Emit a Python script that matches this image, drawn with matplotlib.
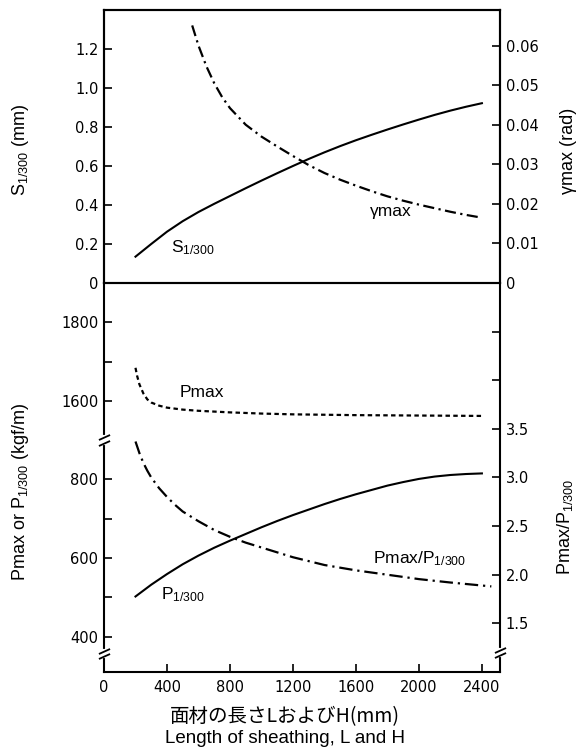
import matplotlib
matplotlib.use("Agg")
import matplotlib.pyplot as plt

plt.rcParams["font.family"] = ["Liberation Sans", "Noto Sans CJK JP", "DejaVu Sans"]
plt.rcParams["mathtext.default"] = "regular"

# --- data ---
L_S = [200, 300, 400, 500, 600, 700, 800, 900, 1000, 1100, 1200, 1300,
       1400, 1500, 1600, 1700, 1800, 1900, 2000, 2100, 2200, 2300, 2400]
S_1300 = [0.135, 0.200, 0.263, 0.317, 0.364, 0.406, 0.446, 0.486, 0.525, 0.563, 0.600, 0.636,
          0.670, 0.702, 0.732, 0.760, 0.787, 0.813, 0.838, 0.862, 0.884, 0.904, 0.922]

L_G = [560, 600, 650, 700, 750, 800, 900, 1000, 1100, 1200, 1300, 1400,
       1500, 1600, 1700, 1800, 1900, 2000, 2100, 2200, 2300, 2400]
GAMMA_MAX = [0.0651, 0.0600, 0.0548, 0.0505, 0.0470, 0.0442, 0.0400, 0.0370, 0.0345, 0.0321, 0.0298, 0.0278,
             0.0261, 0.0246, 0.0232, 0.0219, 0.0208, 0.0198, 0.0189, 0.0180, 0.0172, 0.0165]

L_PMAX = [200, 210, 225, 250, 275, 300, 350, 400, 500, 600, 800, 1000, 1200, 1600, 2000, 2400]
PMAX = [1685, 1665, 1643, 1620, 1605, 1597, 1589, 1584, 1579, 1576, 1572, 1569, 1567, 1565, 1564, 1563]

L_P = [200, 300, 400, 500, 600, 700, 800, 900, 1000, 1100, 1200, 1300,
       1400, 1500, 1600, 1700, 1800, 1900, 2000, 2100, 2200, 2300, 2400]
P_1300 = [502, 532, 559, 584, 606, 626, 644, 661, 678, 694, 709, 723,
          737, 750, 762, 773, 784, 793, 801, 807, 811, 813.5, 815]

L_R = [200, 225, 250, 275, 300, 350, 400, 450, 500, 600, 700, 800, 900, 1000,
       1100, 1200, 1300, 1400, 1600, 1800, 2000, 2200, 2460]
RATIO = [3.37, 3.25, 3.15, 3.07, 3.00, 2.89, 2.80, 2.72, 2.65, 2.55, 2.46, 2.39, 2.33, 2.28,
         2.23, 2.18, 2.14, 2.10, 2.045, 2.00, 1.955, 1.92, 1.88]

X_TICKS = [0, 400, 800, 1200, 1600, 2000, 2400]
S_TICKS = [0, 0.2, 0.4, 0.6, 0.8, 1.0, 1.2]
G_TICKS = [0, 0.01, 0.02, 0.03, 0.04, 0.05, 0.06]
PUP_TICKS = [1600, 1700, 1800]
PUP_LABELS = ["1600", "", "1800"]
PLO_TICKS = [400, 500, 600, 700, 800]
PLO_LABELS = ["400", "", "600", "", "800"]
R_TICKS = [1.5, 2.0, 2.5, 3.0, 3.5, 4.0, 4.5]
R_LABELS = ["1.5", "2.0", "2.5", "3.0", "3.5", "", ""]

XLIM = (0, 2515)
LW_SPINE = 1.5

fig = plt.figure(figsize=(5.81, 7.52), dpi=100)

left, width = 0.179, 0.6816
ax_top = fig.add_axes([left, 0.6237, width, 0.363])
ax_up = fig.add_axes([left, 0.4149, width, 0.2088])
ax_lo = fig.add_axes([left, 0.1064, width, 0.3085])
ax_r = fig.add_axes([left, 0.1064, width, 0.5173])
ax_g = ax_top.twinx()


def style_ticks(ax, axis, side):
    ax.tick_params(axis=axis, which="both", direction="in", length=6, width=1.2, pad=4,
                   labelsize=10.5, labelfontfamily="DejaVu Sans", **{side: True})


for ax in (ax_top, ax_up, ax_lo, ax_r, ax_g):
    ax.set_xlim(*XLIM)
    ax.patch.set_visible(False)
    for sp in ax.spines.values():
        sp.set_linewidth(LW_SPINE)

# top panel
ax_top.plot(L_S, S_1300, color="black", lw=1.5)
ax_top.set_ylim(0, 1.4)
ax_top.set_yticks(S_TICKS)
ax_top.set_yticklabels(["0" if v == 0 else f"{v:.1f}" for v in S_TICKS])
ax_top.set_xticks([])
style_ticks(ax_top, "y", "left")
ax_top.text(427, 0.18, r"S$_{1/300}$", fontsize=12.5, va="center")

ax_g.plot(L_G, GAMMA_MAX, color="black", lw=1.6, dashes=(5, 2, 1, 2))
ax_g.set_ylim(0, 0.069)
ax_g.set_yticks(G_TICKS)
ax_g.set_yticklabels(["0" if v == 0 else f"{v:.2f}" for v in G_TICKS])
style_ticks(ax_g, "y", "right")
ax_g.text(1690, 0.018, "γmax", fontsize=12.5, va="center")

# bottom panel, upper segment (Pmax)
ax_up.plot(L_PMAX, PMAX, color="black", lw=1.6, dashes=(2, 1.5))
ax_up.set_ylim(1502, 1900)
ax_up.set_yticks(PUP_TICKS)
ax_up.set_yticklabels(PUP_LABELS)
ax_up.set_xticks([])
for s in ("top", "bottom", "right"):
    ax_up.spines[s].set_visible(False)
style_ticks(ax_up, "y", "left")
ax_up.text(478, 1623, "Pmax", fontsize=12.5, va="center")

# bottom panel, lower segment (P1/300)
ax_lo.plot(L_P, P_1300, color="black", lw=1.5)
ax_lo.set_ylim(310, 900)
ax_lo.set_yticks(PLO_TICKS)
ax_lo.set_yticklabels(PLO_LABELS)
ax_lo.set_xticks(X_TICKS)
ax_lo.set_xticklabels([str(v) for v in X_TICKS])
for s in ("top", "right"):
    ax_lo.spines[s].set_visible(False)
style_ticks(ax_lo, "y", "left")
style_ticks(ax_lo, "x", "bottom")
ax_lo.tick_params(axis="x", pad=6)
ax_lo.text(363, 506, r"P$_{1/300}$", fontsize=12.5, va="center")

# ratio on the right
ax_r.plot(L_R, RATIO, color="black", lw=1.6, dashes=(6, 2.2, 1, 2.2))
ax_r.set_ylim(1.0, 5.0)
ax_r.yaxis.tick_right()
ax_r.set_yticks(R_TICKS)
ax_r.set_yticklabels(R_LABELS)
ax_r.set_xticks([])
for s in ("top", "bottom", "left"):
    ax_r.spines[s].set_visible(False)
style_ticks(ax_r, "y", "right")
ax_r.text(1707, 2.17, r"Pmax/P$_{1/300}$", fontsize=12.5, va="center")


def add_break(ax, xf, yf, half):
    ax.plot([xf, xf], [yf - half, yf + half], color="white", lw=3,
            transform=ax.transAxes, clip_on=False, zorder=5)
    ax.plot([xf, xf], [yf - half, yf + half], transform=ax.transAxes, ls="none",
            marker=[(-1, -0.45), (1, 0.45)], ms=8, mew=1.3, color="black",
            clip_on=False, zorder=6)


add_break(ax_lo, 0, 1.0, 0.011)
add_break(ax_lo, 0, 0.078, 0.011)
add_break(ax_r, 1, 0.049, 0.0065)

# axis titles
fig.text(0.036, 0.80, r"S$_{1/300}$ (mm)", rotation=90, ha="center", va="center", fontsize=13)
fig.text(0.036, 0.346, r"Pmax or P$_{1/300}$ (kgf/m)", rotation=90, ha="center", va="center", fontsize=13)
fig.text(0.978, 0.80, "γmax (rad)", rotation=90, ha="center", va="center", fontsize=13)
fig.text(0.972, 0.299, r"Pmax/P$_{1/300}$", rotation=90, ha="center", va="center", fontsize=13)
fig.text(0.49, 0.0465, "面材の長さLおよびH(mm)", ha="center", va="center", fontsize=14,
         family=["Noto Sans CJK JP", "DejaVu Sans"])
fig.text(0.49, 0.0185, "Length of sheathing, L and H", ha="center", va="center", fontsize=13.5)

fig.savefig("out.png", dpi=100)
